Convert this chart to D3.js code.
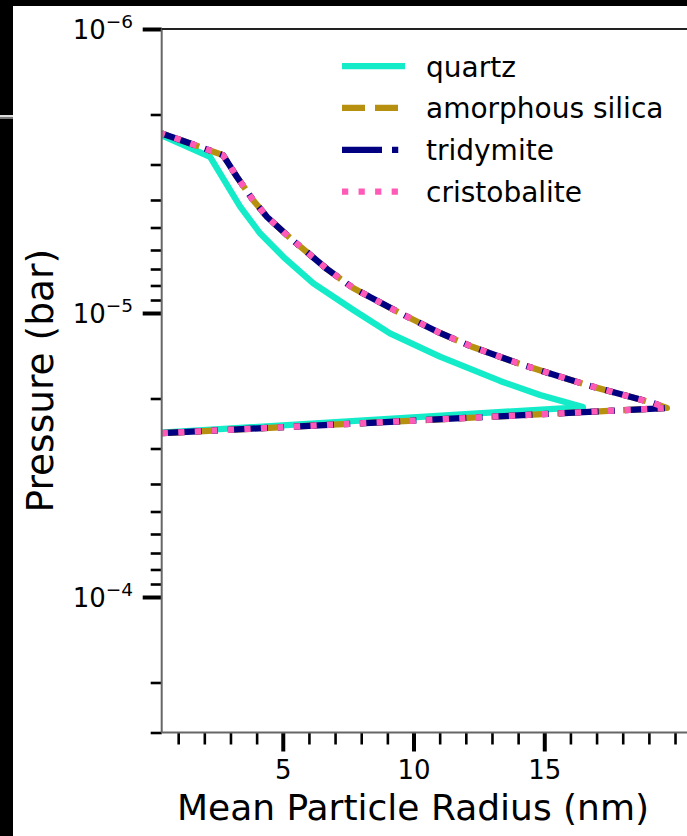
<!DOCTYPE html>
<html>
<head>
<meta charset="utf-8">
<script src="https://cdn.jsdelivr.net/npm/d3@7"></script>
<style>
  body { margin: 0; background: #fff; }
  svg { display: block; }
  text { font-family: "DejaVu Sans", sans-serif; fill: #000; }
</style>
</head>
<body>
<svg id="chart" width="687" height="836"></svg>
<script>
// -----
// DATA
// -----
const seriesNames = ["quartz", "amorphous silica", "tridymite", "cristobalite"];

// each loop: lower-left -> tip -> back along the upper branch
const quartzRadius = [0.37, 16.48, 14.84, 13.31, 11.01, 9.10, 7.70, 6.17, 5.02, 4.13, 3.37, 2.22, 0.37];
const quartzPressure = [2.64e-5, 2.143e-5, 1.944e-5, 1.735e-5, 1.425e-5, 1.179e-5, 9.76e-6, 7.86e-6, 6.34e-6, 5.24e-6, 4.22e-6, 2.82e-6, 2.37e-6];

const amorphousRadius = [0.37, 19.69, 19.16, 16.63, 14.19, 12.27, 11.01, 9.48, 7.69, 6.69, 5.28, 4.40, 3.86, 3.25, 2.715, 0.37];
const amorphousPressure = [2.65e-5, 2.16e-5, 2.075e-5, 1.793e-5, 1.525e-5, 1.318e-5, 1.176e-5, 1.0e-5, 8.17e-6, 7.0e-6, 5.44e-6, 4.59e-6, 4.0e-6, 3.32e-6, 2.78e-6, 2.33e-6];

const tridymiteRadius = [0.37, 19.69, 19.16, 16.63, 14.19, 12.27, 11.01, 9.48, 7.69, 6.69, 5.28, 4.40, 3.86, 3.25, 2.715, 0.37];
const tridymitePressure = [2.65e-5, 2.16e-5, 2.075e-5, 1.793e-5, 1.525e-5, 1.318e-5, 1.176e-5, 1.0e-5, 8.17e-6, 7.0e-6, 5.44e-6, 4.59e-6, 4.0e-6, 3.32e-6, 2.78e-6, 2.33e-6];

const cristobaliteRadius = [0.37, 19.69, 19.16, 16.63, 14.19, 12.27, 11.01, 9.48, 7.69, 6.69, 5.28, 4.40, 3.86, 3.25, 2.715, 0.37];
const cristobalitePressure = [2.65e-5, 2.16e-5, 2.075e-5, 1.793e-5, 1.525e-5, 1.318e-5, 1.176e-5, 1.0e-5, 8.17e-6, 7.0e-6, 5.44e-6, 4.59e-6, 4.0e-6, 3.32e-6, 2.78e-6, 2.33e-6];

const xMajorTicks = [5, 10, 15];
const xMinorTicks = [1, 2, 3, 4, 6, 7, 8, 9, 11, 12, 13, 14, 16, 17, 18, 19, 20];
const yMajorTicks = [1e-6, 1e-5, 1e-4];
const yMajorLabels = ["−6", "−5", "−4"];
const yMinorTicks = [2e-6, 3e-6, 4e-6, 5e-6, 6e-6, 7e-6, 8e-6, 9e-6,
                     2e-5, 3e-5, 4e-5, 5e-5, 6e-5, 7e-5, 8e-5, 9e-5,
                     2e-4, 3e-4];

const xLabel = "Mean Particle Radius (nm)";
const yLabel = "Pressure (bar)";

// -----
// SETUP
// -----
const svg = d3.select("#chart");
const plot = { left: 161.7, top: 29, bottom: 732.5 };

const x = d3.scaleLinear().domain([0.37, 21]).range([plot.left, plot.left + (21 - 0.37) * 26.15]);
const y = d3.scaleLog().domain([1e-6, 3e-4]).range([plot.top, plot.bottom]);

const styles = {
    "quartz":           { color: "#14ebc8", dash: null },
    "amorphous silica": { color: "#b8900f", dash: "23,10" },
    "tridymite":        { color: "#000080", dash: "40,10,6.25,10" },
    "cristobalite":     { color: "#ff5ab8", dash: "6.25,10.3" },
};
const lineWidth = 6.25;

const seriesData = [
    { name: "quartz", r: quartzRadius, p: quartzPressure },
    { name: "amorphous silica", r: amorphousRadius, p: amorphousPressure },
    { name: "tridymite", r: tridymiteRadius, p: tridymitePressure },
    { name: "cristobalite", r: cristobaliteRadius, p: cristobalitePressure },
].map(s => ({ name: s.name, points: s.r.map((r, i) => [r, s.p[i]]) }));

// frame edges of the screenshot
svg.append("rect").attr("x", 0).attr("y", 0).attr("width", 687).attr("height", 6).attr("fill", "#000");
svg.append("rect").attr("x", 0).attr("y", 0).attr("width", 13).attr("height", 836).attr("fill", "#000");
svg.append("rect").attr("x", 0).attr("y", 115).attr("width", 13).attr("height", 2).attr("fill", "#ddd");
svg.append("rect").attr("x", 0).attr("y", 117).attr("width", 13).attr("height", 2).attr("fill", "#777");

svg.append("clipPath").attr("id", "plot-clip")
  .append("rect")
    .attr("x", plot.left).attr("y", plot.top)
    .attr("width", 687 - plot.left).attr("height", plot.bottom - plot.top);

// -----
// LINES
// -----
const line = d3.line()
    .x(d => x(d[0]))
    .y(d => y(d[1]));

svg.append("g")
    .attr("class", "series")
    .attr("clip-path", "url(#plot-clip)")
    .attr("fill", "none")
  .selectAll("path")
  .data(seriesData)
  .join("path")
    .attr("d", d => line(d.points))
    .attr("stroke", d => styles[d.name].color)
    .attr("stroke-width", lineWidth)
    .attr("stroke-dasharray", d => styles[d.name].dash)
    .attr("stroke-linejoin", "round");

// -----
// AXES
// -----
const xMinor = svg.append("g")
    .attr("transform", `translate(0,${plot.bottom})`)
    .call(d3.axisBottom(x).tickValues(xMinorTicks).tickSize(12).tickFormat(""));
const xMajor = svg.append("g")
    .attr("transform", `translate(0,${plot.bottom})`)
    .call(d3.axisBottom(x).tickValues(xMajorTicks).tickSize(19).tickPadding(9).tickFormat(d3.format("d")));
xMinor.selectAll("line").attr("stroke", "#000").attr("stroke-width", 2.6);
xMajor.selectAll("line").attr("stroke", "#000").attr("stroke-width", 4);
xMajor.selectAll("text").attr("font-size", 26).attr("font-family", "DejaVu Sans").attr("fill", "#000");

const yMinor = svg.append("g")
    .attr("transform", `translate(${plot.left},0)`)
    .call(d3.axisLeft(y).tickValues(yMinorTicks).tickSize(11).tickFormat(""));
const yMajor = svg.append("g")
    .attr("transform", `translate(${plot.left},0)`)
    .call(d3.axisLeft(y).tickValues(yMajorTicks).tickSize(19).tickFormat(""));
yMinor.selectAll("line").attr("stroke", "#000").attr("stroke-width", 2.6);
yMajor.selectAll("line").attr("stroke", "#000").attr("stroke-width", 4);
svg.selectAll(".domain").remove();

// 10^n labels
const yLabels = svg.append("g").attr("class", "y-labels")
  .selectAll("text")
  .data(yMajorTicks)
  .join("text")
    .attr("x", 133)
    .attr("y", d => y(d) + 10)
    .attr("text-anchor", "end")
    .attr("font-size", 26);
yLabels.append("tspan").text("10");
yLabels.append("tspan")
    .attr("font-size", 18.5)
    .attr("dy", -11)
    .text((d, i) => yMajorLabels[i]);

// spines
svg.append("line")
    .attr("x1", plot.left).attr("x2", plot.left)
    .attr("y1", plot.top).attr("y2", plot.bottom)
    .attr("stroke", "#666").attr("stroke-width", 2);
svg.append("line")
    .attr("x1", plot.left).attr("x2", 687)
    .attr("y1", plot.bottom).attr("y2", plot.bottom)
    .attr("stroke", "#666").attr("stroke-width", 2);
svg.append("line")
    .attr("x1", plot.left).attr("x2", 687)
    .attr("y1", plot.top).attr("y2", plot.top)
    .attr("stroke", "#222").attr("stroke-width", 2);

// axis titles
svg.append("text")
    .attr("x", 413)
    .attr("y", 820)
    .attr("text-anchor", "middle")
    .attr("font-size", 36)
    .text(xLabel);
svg.append("text")
    .attr("transform", `translate(53,${(plot.top + plot.bottom) / 2}) rotate(-90)`)
    .attr("text-anchor", "middle")
    .attr("font-size", 37.5)
    .text(yLabel);

// -----
// LEGEND
// -----
const legend = svg.append("g")
    .attr("class", "legend")
  .selectAll("g")
  .data(seriesNames)
  .join("g")
    .attr("transform", (d, i) => `translate(0,${66 + i * 41.9})`);
legend.append("line")
    .attr("x1", 342).attr("x2", 405)
    .attr("stroke", d => styles[d].color)
    .attr("stroke-width", lineWidth)
    .attr("stroke-dasharray", d => styles[d].dash);
legend.append("text")
    .attr("x", 426)
    .attr("y", 10.5)
    .attr("font-size", 28)
    .text(d => d);
</script>
</body>
</html>
